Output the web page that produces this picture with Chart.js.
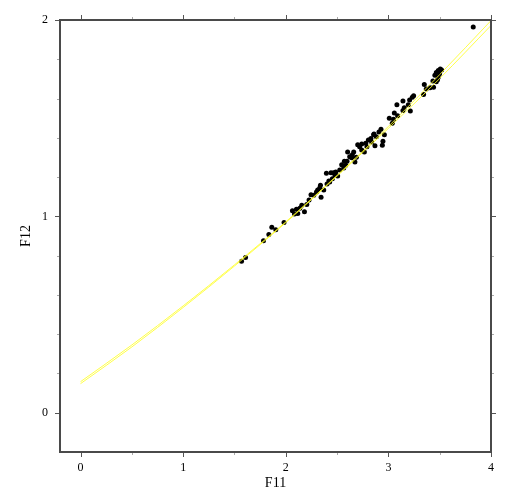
<!DOCTYPE html>
<html>
<head>
<meta charset="utf-8">
<script src="https://cdn.jsdelivr.net/npm/chart.js@4/dist/chart.umd.min.js"></script>
<style>
html,body{margin:0;padding:0;background:#fff;}
canvas{display:block;}
</style>
</head>
<body>
<canvas id="c" width="508" height="493"></canvas>
<script>
// ---- data ----
const pointsX = [1.569,1.608,1.783,1.835,1.864,1.903,1.983,2.065,2.104,2.085,2.117,2.156,2.182,2.227,2.246,2.273,2.299,2.338,2.331,2.344,2.370,2.396,2.402,2.428,2.441,2.467,2.454,2.480,2.506,2.526,2.545,2.571,2.584,2.597,2.603,2.623,2.649,2.662,2.674,2.688,2.701,2.720,2.740,2.766,2.779,2.791,2.805,2.830,2.837,2.856,2.869,2.883,2.908,2.928,2.941,2.947,2.961,3.038,3.058,3.083,3.090,3.142,3.142,3.155,3.194,3.214,3.207,3.233,3.246,3.343,3.350,3.369,3.406,3.434,3.440,3.467,3.453,3.486,3.506,3.518,3.479,3.467,3.486,3.499,3.827,3.009,3.050,2.137,2.311,2.487,2.642,2.740,2.565,2.205,2.420,2.860];
const pointsY = [0.772,0.791,0.876,0.908,0.944,0.932,0.969,1.029,1.036,1.012,1.015,1.056,1.023,1.083,1.110,1.107,1.124,1.158,1.144,1.097,1.134,1.219,1.165,1.175,1.222,1.222,1.192,1.209,1.206,1.236,1.263,1.281,1.260,1.281,1.328,1.304,1.314,1.328,1.277,1.301,1.365,1.355,1.369,1.328,1.372,1.355,1.389,1.396,1.379,1.416,1.359,1.406,1.430,1.444,1.362,1.383,1.416,1.474,1.526,1.569,1.512,1.587,1.539,1.553,1.569,1.536,1.593,1.607,1.614,1.620,1.671,1.648,1.655,1.689,1.657,1.733,1.719,1.743,1.750,1.746,1.696,1.685,1.709,1.726,1.964,1.500,1.495,1.041,1.134,1.226,1.298,1.338,1.246,1.060,1.180,1.420];
const curveX = [0,0.5,1,1.5,2,2.5,3,3.5,4];
const curveUpper = [0.158,0.345,0.544,0.753,0.972,1.209,1.458,1.722,1.997];
const curveLower = [0.148,0.335,0.536,0.747,0.968,1.205,1.448,1.702,1.972];
const xTickLabels = [0,1,2,3,4];
const xMinorTicks = [0.5,1.5,2.5,3.5];
const yTickLabels = [0,1,2];
const yMinorTicks = [0.2,0.4,0.6,0.8,1.2,1.4,1.6,1.8];
const xTitle = 'F11';
const yTitle = 'F12';

const scatterData = pointsX.map((x,i)=>({x:x,y:pointsY[i]}));
const upperData = curveX.map((x,i)=>({x:x,y:curveUpper[i]}));
const lowerData = curveX.map((x,i)=>({x:x,y:curveLower[i]}));

const FONT = '"Liberation Serif", "Times New Roman", serif';

const frameTicks = {
  id:'frameTicks',
  afterDraw(chart){
    const {ctx, chartArea:a, scales:{x,y}} = chart;
    ctx.save();
    const seg=(x1,y1,x2,y2,c,w)=>{ctx.strokeStyle=c;ctx.lineWidth=w;ctx.beginPath();ctx.moveTo(x1,y1);ctx.lineTo(x2,y2);ctx.stroke();};
    const major='#555', minor='#aaa';
    xTickLabels.forEach(v=>{const p=Math.round(x.getPixelForValue(v))+0.5; seg(p,a.bottom,p,a.bottom+5,major,1); seg(p,a.top,p,a.top-5,major,1);});
    xMinorTicks.forEach(v=>{const p=Math.round(x.getPixelForValue(v))+0.5; seg(p,a.bottom,p,a.bottom+3,minor,1); seg(p,a.top,p,a.top-3,minor,1);});
    yTickLabels.forEach(v=>{const p=Math.round(y.getPixelForValue(v))+0.5; seg(a.left,p,a.left-5,p,major,1); seg(a.right,p,a.right+5,p,major,1);});
    yMinorTicks.forEach(v=>{const p=Math.round(y.getPixelForValue(v))+0.5; seg(a.left,p,a.left-3,p,minor,1); seg(a.right,p,a.right+3,p,minor,1);});
    ctx.strokeStyle='#4a4a4a'; ctx.lineWidth=2;
    ctx.strokeRect(a.left,a.top,a.right-a.left,a.bottom-a.top);
    ctx.restore();
  }
};

new Chart(document.getElementById('c'), {
  type:'scatter',
  data:{datasets:[
    {data:upperData, showLine:true, borderColor:'rgba(255,255,40,0.85)', borderWidth:1, pointRadius:0, order:0, cubicInterpolationMode:'monotone'},
    {data:lowerData, showLine:true, borderColor:'rgba(255,255,40,0.85)', borderWidth:1, pointRadius:0, order:0, cubicInterpolationMode:'monotone'},
    {data:scatterData, pointRadius:2.5, pointBackgroundColor:'#000', pointBorderWidth:0, order:1}
  ]},
  options:{
    responsive:false, animation:false,
    layout:{padding:{top:20,right:17,bottom:0,left:0}},
    plugins:{legend:{display:false}, tooltip:{enabled:false}},
    scales:{
      x:{type:'linear', min:-0.2, max:4,
        afterBuildTicks:s=>{s.ticks=xTickLabels.map(v=>({value:v}));},
        afterFit:s=>{s.height=41;},
        grid:{display:false, drawTicks:false}, border:{display:false},
        ticks:{padding:9, color:'#000', font:{family:FONT,size:12}, maxRotation:0, autoSkip:false, callback:v=>String(v)},
        title:{display:true, text:xTitle, color:'#000', font:{family:FONT,size:14}, padding:{top:0,bottom:1}}
      },
      y:{type:'linear', min:-0.2, max:2,
        afterBuildTicks:s=>{s.ticks=yTickLabels.map(v=>({value:v}));},
        afterFit:s=>{s.width=60;},
        grid:{display:false, drawTicks:false}, border:{display:false},
        ticks:{padding:12, color:'#000', font:{family:FONT,size:12}, autoSkip:false, callback:v=>String(v)},
        title:{display:true, text:yTitle, color:'#000', font:{family:FONT,size:14}, padding:{top:18,bottom:0}}
      }
    }
  },
  plugins:[frameTicks]
});
</script>
</body>
</html>
